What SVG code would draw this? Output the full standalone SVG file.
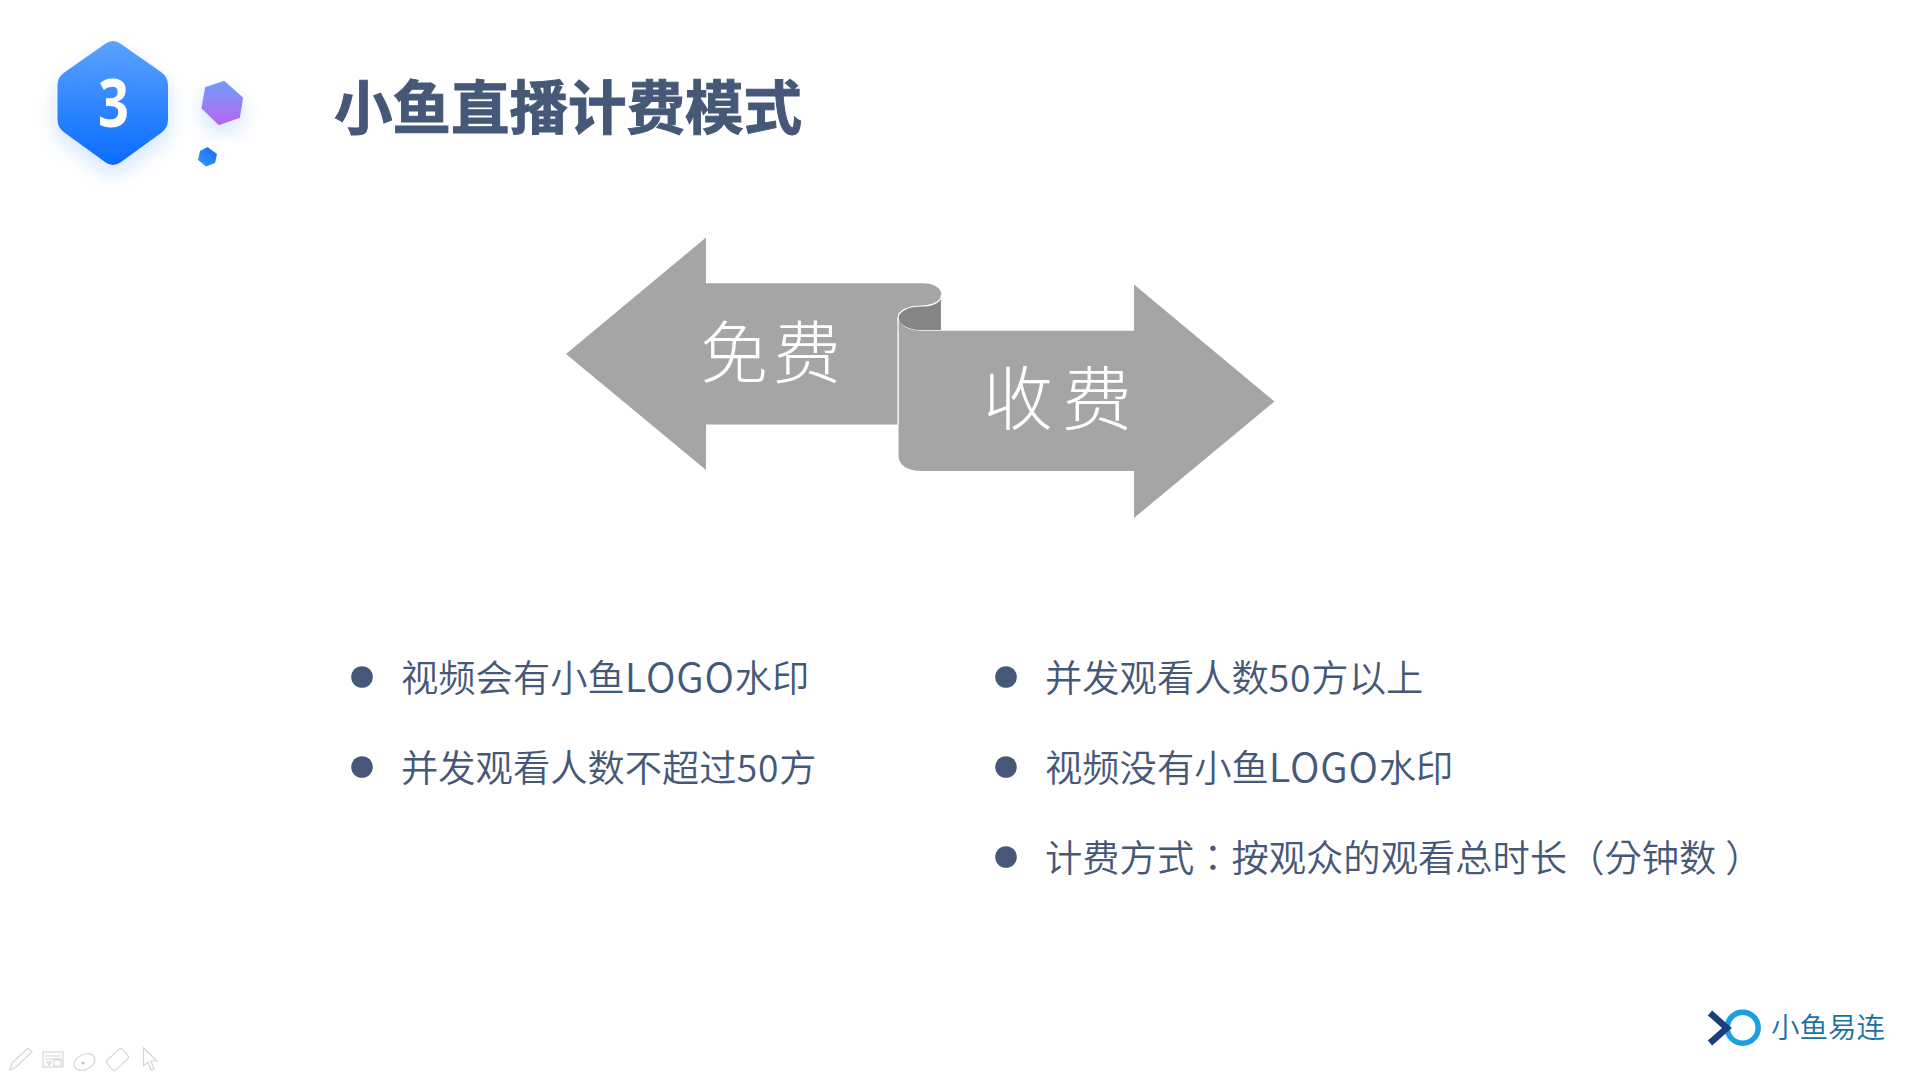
<svg xmlns="http://www.w3.org/2000/svg" width="1920" height="1080" viewBox="0 0 1920 1080">
<style>
text{font-family:"Noto Sans CJK SC","Noto Sans",sans-serif}
.title{font-size:58.5px;font-weight:700;fill:#465877;stroke:#465877;stroke-width:1}
.item{font-size:37.3px;font-weight:350;fill:#465877}
.wide{font-size:40px;letter-spacing:.8px}
.num{letter-spacing:.8px}
.tc{font-family:"Noto Sans CJK TC",sans-serif}
.bullet{fill:#465877}
.ribbon{fill:#a5a5a5}
.curl{fill:#858585;stroke:#fff;stroke-width:1.2}
.label{font-size:68px;font-weight:300;fill:#fff;letter-spacing:5px}
.tool{fill:#fff;stroke:#d6d6d6;stroke-width:1.2}
</style>
<defs>
<linearGradient id="g1" x1="0" y1="0" x2="0" y2="1"><stop offset="0" stop-color="#5aa2ff"/><stop offset="1" stop-color="#0a6cff"/></linearGradient>
<linearGradient id="g2" x1="0" y1="0" x2="0" y2="1"><stop offset="0" stop-color="#6f9df6"/><stop offset="1" stop-color="#b865f0"/></linearGradient>
<linearGradient id="g3" x1="1" y1="0" x2="0" y2="1"><stop offset="0" stop-color="#1668f0"/><stop offset="1" stop-color="#3d9aff"/></linearGradient>
<filter id="soft" x="-40%" y="-40%" width="180%" height="180%"><feDropShadow dx="0" dy="9" stdDeviation="10" flood-color="#2a7bff" flood-opacity="0.2"/></filter>
</defs>
<rect width="1920" height="1080" fill="#fff"/>
<g id="badge">
<path d="M105,44 Q113,38 121,44 L161,72 Q168,77 168,85 V120 Q168,128 161,133 L121,162 Q113,168 105,162 L65,133 Q57.500,128 57.500,120 V85 Q57.500,77 65,72 Z" fill="url(#g1)" filter="url(#soft)"/>
<text x="98" y="127" textLength="31" lengthAdjust="spacingAndGlyphs" font-size="67" font-weight="700" fill="#fff" style="font-family:'Noto Sans',sans-serif">3</text>
</g>
<g id="hex-purple"><path d="M224,82 L242,98 L239,117 L219,124 L202.500,108 L206,88 Z" fill="url(#g2)" stroke="url(#g2)" stroke-width="2" stroke-linejoin="round" filter="url(#soft)"/></g>
<g id="hex-blue"><path d="M207.500,147 L217,154 L215,163 L206,166.500 L198,160 L200,151 Z" fill="url(#g3)"/></g>
<g id="title"><text class="title" x="334" y="129">小鱼直播计费模式</text></g>
<g id="arrow-free">
<path class="ribbon" d="M566,354 L706,237.500 V283.300 H922 C934,283.300 941.500,288 941.500,295 L941.500,331 H898 V424.500 H706 V470 Z"/>
<path class="curl" d="M941.500,295 C941.500,302 932,306 922,306 C908,306 898,311 898,318 C898,325 908,330.700 922,330.700 H941.500 Z"/>
<text class="label" x="700" y="378">免费</text>
</g>
<g id="arrow-paid">
<path class="ribbon" d="M898.500,318 C898.500,325 908,330.700 922,330.700 H1134 V284.500 L1274.500,401.500 L1134,518 V471 H922 C908,471 898.500,465 898.500,456 Z"/>
<path d="M898,318 V424.500" fill="none" stroke="#fff" stroke-width="1.200"/>
<text class="label" x="983" y="425" style="font-size:70px;letter-spacing:9px">收费</text>
</g>
<g id="list-free">
<circle class="bullet" cx="362" cy="677" r="10.800"/><text class="item" x="401" y="692">视频会有小鱼<tspan class="wide">LOGO</tspan>水印</text>
<circle class="bullet" cx="362" cy="767" r="10.800"/><text class="item" x="401" y="782">并发观看人数不超过<tspan class="num">50</tspan>方</text>
</g>
<g id="list-paid">
<circle class="bullet" cx="1006" cy="677" r="10.800"/><text class="item" x="1045" y="692">并发观看人数<tspan class="num">50</tspan>方以上</text>
<circle class="bullet" cx="1006" cy="767" r="10.800"/><text class="item" x="1045" y="782">视频没有小鱼<tspan class="wide">LOGO</tspan>水印</text>
<circle class="bullet" cx="1006" cy="857" r="10.800"/><text class="item tc" x="1045" y="872">计费方式：按观众的观看总时长（分钟数<tspan dx="9">）</tspan></text>
</g>
<g id="logo">
<circle cx="1742.700" cy="1027.700" r="15.500" fill="none" stroke="#1b9fe0" stroke-width="5.500"/>
<path d="M1710,1013 L1727,1028 L1710,1043" fill="none" stroke="#1b3f7e" stroke-width="6.500"/>
<text x="1771" y="1038" font-size="28.500" font-weight="350" fill="#1a6fa3">小鱼易连</text>
</g>
<g id="toolbar">
<path class="tool" d="M10,1070 L12,1063 L28,1048 L32,1052 L16,1067 Z"/>
<rect class="tool" x="43" y="1052" width="20" height="15"/>
<path class="tool" d="M45,1056 H61 M45,1059 H61 M54,1060 H61 V1066 H54 Z M47,1062 L51,1062 L49,1065 Z" fill="none"/>
<ellipse class="tool" cx="84.500" cy="1062" rx="11" ry="7.500" transform="rotate(-25 84.500 1062)"/>
<circle cx="83" cy="1063" r="1.500" fill="#c4c4c4"/>
<rect class="tool" x="107" y="1053" width="21" height="13" rx="3" transform="rotate(-42 117.500 1059.500)"/>
<path class="tool" d="M143.500,1048 V1066 L148,1062 L151,1070 L154,1069 L151,1061 L157,1061 Z"/>
</g>
</svg>
